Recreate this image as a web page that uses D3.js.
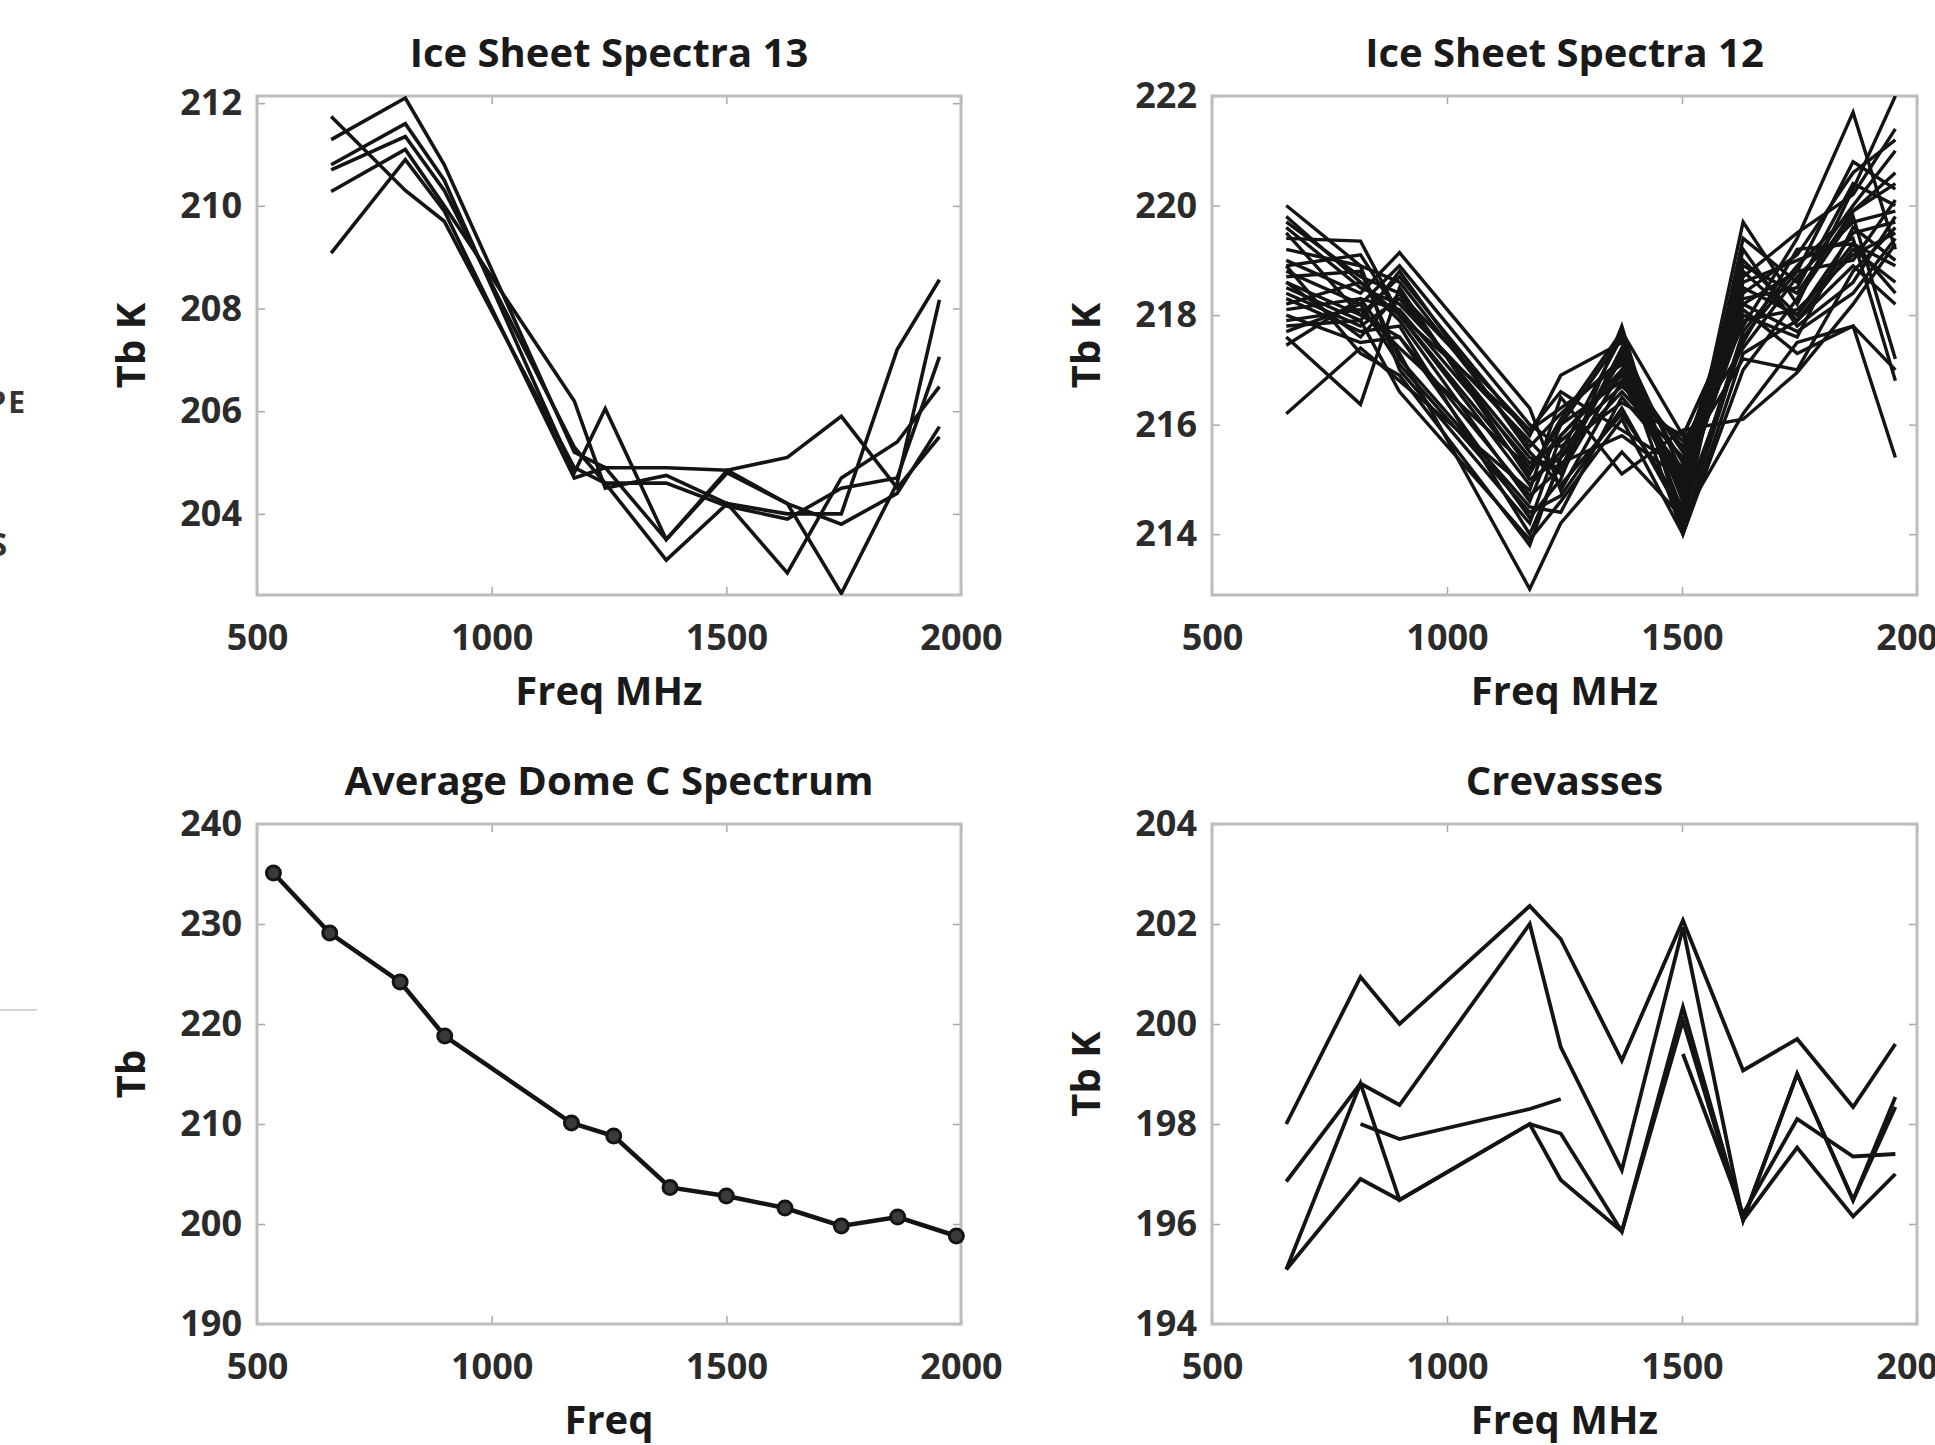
<!DOCTYPE html>
<html lang="en">
<head>
  <meta charset="UTF-8">
  <title>Spectra</title>
  <script src="https://d3js.org/d3.v7.min.js"></script>
  <style>
    body {
      margin: 0;
      padding: 0;
      background: #fff;
    }
    svg {
      display: block;
      font-family: 'Open Sans', sans-serif;
    }
    .tick text {
      font-family: 'Open Sans', sans-serif;
      font-size: 36px;
      font-weight: 700;
      fill: #2b2b2b;
    }
    .tick line {
      stroke: #a8a8a8;
      stroke-width: 1.5;
    }
    .title, .label {
      font-size: 40px;
      font-weight: 700;
      fill: #1a1a1a;
    }
  </style>
</head>
<body>
  <svg id="chart" width="1935" height="1445"></svg>

  <script>
    // x values (MHz)
    var freqSpectra = [658, 816, 899, 1176, 1242, 1372, 1502, 1630, 1745, 1864, 1954];
    var freqDome = [535, 655, 805, 900, 1170, 1260, 1380, 1500, 1625, 1745, 1865, 1990];
    var xTicks = [500, 1000, 1500, 2000];

    // Ice Sheet Spectra 13
    var spectra13 = [
      [211.29, 212.1, 210.8, 205.2, 204.9, 204.9, 204.85, 205.1, 205.9, 204.5, 205.5],
      [210.8, 211.6, 210.5, 204.8, 206.05, 203.5, 204.8, 204.2, 203.8, 204.4, 205.7],
      [210.7, 211.35, 210.3, 205.3, 204.6, 203.1, 204.2, 202.85, 204.7, 205.4, 206.48],
      [210.28, 211.1, 210.0, 206.2, 204.5, 204.75, 204.2, 204.0, 204.0, 207.2, 208.56],
      [209.08, 210.9, 209.9, 204.7, 204.9, 203.5, 204.85, 204.2, 202.45, 204.6, 208.17],
      [211.74, 210.3, 209.7, 204.9, 204.6, 204.6, 204.15, 203.9, 204.5, 204.7, 207.06]
    ];
    var yTicks13 = [204, 206, 208, 210, 212];

    // Ice Sheet Spectra 12
    var spectra12 = [
      [220.0, 218.9, 218.6, 215.6, 216.2, 217.2, 215.3, 218.9, 218.4, 219.9, 220.6],
      [219.7, 218.7, 218.4, 215.2, 215.8, 217.0, 215.0, 218.5, 218.0, 219.5, 219.7],
      [219.4, 219.35, 218.0, 214.9, 215.5, 217.6, 214.6, 219.7, 218.2, 220.3, 222.0],
      [219.0, 218.4, 219.14, 216.3, 214.8, 216.8, 215.6, 217.8, 219.4, 221.7, 219.2],
      [218.8, 218.2, 218.9, 216.0, 215.6, 216.4, 215.8, 218.2, 218.8, 220.8, 220.3],
      [218.6, 218.0, 218.7, 215.8, 216.9, 217.5, 215.1, 218.8, 217.9, 219.2, 218.6],
      [218.4, 217.8, 218.3, 215.4, 215.2, 217.3, 214.4, 219.4, 218.6, 220.0, 221.0],
      [218.2, 218.6, 217.9, 214.6, 216.0, 216.8, 214.8, 218.0, 217.6, 219.6, 219.0],
      [218.0, 217.5, 217.6, 214.3, 215.0, 217.8, 214.1, 217.6, 218.8, 219.0, 220.1],
      [217.8, 217.9, 216.6, 213.9, 214.6, 216.1, 214.0, 217.0, 218.3, 219.8, 217.2],
      [217.6, 216.37, 218.5, 215.0, 215.4, 216.6, 215.4, 217.2, 217.0, 218.8, 219.6],
      [217.45, 218.3, 217.3, 213.0, 214.2, 215.5, 214.3, 216.2, 217.5, 217.8, 215.4],
      [216.2, 217.4, 216.8, 214.8, 216.5, 215.1, 215.9, 216.1, 216.95, 218.2, 219.3],
      [219.2, 218.9, 217.0, 214.2, 215.8, 216.9, 214.7, 218.6, 219.0, 219.4, 216.8],
      [218.9, 219.1, 218.0, 215.9, 216.3, 217.1, 215.5, 218.3, 218.5, 220.4, 220.0],
      [218.5, 217.9, 218.8, 215.5, 214.9, 216.2, 214.5, 217.5, 219.2, 219.3, 218.4],
      [217.9, 218.1, 217.4, 215.2, 216.0, 217.6, 214.2, 219.2, 217.8, 218.6, 219.8],
      [218.3, 217.7, 217.8, 214.0, 215.3, 215.8, 215.0, 218.7, 219.5, 220.2, 221.4],
      [219.6, 218.5, 218.2, 215.7, 215.1, 217.0, 214.9, 217.9, 218.1, 219.1, 219.5],
      [218.7, 218.8, 217.2, 214.5, 214.4, 216.5, 215.2, 218.1, 217.3, 217.8, 217.0],
      [218.1, 218.3, 218.1, 215.3, 215.7, 216.7, 215.7, 217.4, 218.7, 219.7, 219.9],
      [219.5, 218.0, 217.6, 214.7, 215.2, 217.4, 214.6, 218.4, 219.1, 220.6, 221.2],
      [218.6, 217.6, 218.4, 215.9, 216.6, 215.9, 215.2, 219.0, 218.0, 219.3, 218.9],
      [217.7, 218.2, 217.1, 214.4, 214.7, 216.3, 214.3, 217.7, 218.9, 219.9, 220.4],
      [219.8, 218.6, 218.0, 215.1, 216.1, 217.7, 215.8, 218.2, 217.7, 218.4, 219.4],
      [218.9, 217.3, 216.9, 213.8, 215.4, 217.2, 214.0, 217.3, 217.9, 218.9, 218.2]
    ];
    var yTicks12 = [214, 216, 218, 220, 222];

    // Average Dome C Spectrum
    var domeTb = [235.1, 229.1, 224.2, 218.8, 210.1, 208.8, 203.65, 202.8, 201.6, 199.8, 200.7, 198.8];
    var yTicksDome = [190, 200, 210, 220, 230, 240];

    // Crevasses (null = no sample)
    var crevasses = [
      [198.0, 200.94, 200.0, 202.36, 201.7, 199.27, 202.07, 199.07, 199.7, 198.34, 199.6],
      [196.85, 198.81, 198.38, 202.0, 199.54, 197.08, 201.93, 196.08, 199.0, 196.48, 198.54],
      [195.09, 198.81, 196.48, 198.0, 197.81, 195.85, 200.34, 196.08, 199.0, 196.48, 198.34],
      [195.09, 196.9, 196.48, 198.0, 196.88, 195.85, 200.07, 196.08, 197.53, 196.15, 197.0],
      [null, 198.0, 197.7, 198.3, 198.5, null, null, null, null, null, null],
      [null, null, null, null, null, null, 199.4, 196.2, 198.1, 197.35, 197.4]
    ];
    var yTicksCrev = [194, 196, 198, 200, 202, 204];

    var svg = d3.select('#chart');

    function drawPanel(p) {
      var g = svg.append('g');
      var x = d3.scaleLinear().domain([500, 2000]).range([p.left, p.left + p.width]);
      var y = d3.scaleLinear().domain(p.yDomain).range([p.top + p.height, p.top]);

      var clipId = 'clip' + p.id;
      g.append('clipPath').attr('id', clipId)
        .append('rect')
        .attr('x', p.left).attr('y', p.top)
        .attr('width', p.width).attr('height', p.height);

      // axes, ticks pointing inward like matlab
      g.append('g')
        .attr('transform', 'translate(0,' + (p.top + p.height) + ')')
        .call(d3.axisBottom(x).tickValues(xTicks).tickFormat(d3.format('d')).tickSize(-8).tickPadding(29))
        .call(function(a) { a.select('.domain').remove(); });
      g.append('g')
        .attr('transform', 'translate(0,' + p.top + ')')
        .call(d3.axisTop(x).tickValues(xTicks).tickSize(-8).tickFormat(''))
        .call(function(a) { a.select('.domain').remove(); });
      g.append('g')
        .attr('transform', 'translate(' + p.left + ',0)')
        .call(d3.axisLeft(y).tickValues(p.yTicks).tickFormat(d3.format('d')).tickSize(-8).tickPadding(15))
        .call(function(a) { a.select('.domain').remove(); });
      g.append('g')
        .attr('transform', 'translate(' + (p.left + p.width) + ',0)')
        .call(d3.axisRight(y).tickValues(p.yTicks).tickSize(-8).tickFormat(''))
        .call(function(a) { a.select('.domain').remove(); });

      g.append('rect')
        .attr('x', p.left).attr('y', p.top)
        .attr('width', p.width).attr('height', p.height)
        .attr('fill', 'none')
        .attr('stroke', '#bdbdbd')
        .attr('stroke-width', 3);

      var line = d3.line()
        .defined(function(d) { return d.v != null; })
        .x(function(d) { return x(d.f); })
        .y(function(d) { return y(d.v); });

      var rows = p.series.map(function(s) {
        return s.map(function(v, i) { return {f: p.freqs[i], v: v}; });
      });

      g.append('g')
        .attr('clip-path', 'url(#' + clipId + ')')
        .selectAll('path')
        .data(rows).enter().append('path')
        .attr('d', line)
        .attr('fill', 'none')
        .attr('stroke', '#141414')
        .attr('stroke-width', p.lineWidth)
        .attr('stroke-linejoin', 'miter');

      if (p.markers) {
        g.append('g').selectAll('circle')
          .data(rows[0]).enter().append('circle')
          .attr('cx', function(d) { return x(d.f); })
          .attr('cy', function(d) { return y(d.v); })
          .attr('r', 7)
          .attr('fill', '#3a3a3a')
          .attr('stroke', '#141414')
          .attr('stroke-width', 3);
      }

      var cx = p.left + p.width / 2;
      g.append('text').attr('class', 'title')
        .attr('x', cx).attr('y', p.top - 29)
        .attr('text-anchor', 'middle')
        .text(p.title);
      g.append('text').attr('class', 'label')
        .attr('x', cx).attr('y', p.top + p.height + 110)
        .attr('text-anchor', 'middle')
        .text(p.xLabel);
      g.append('text').attr('class', 'label')
        .attr('transform', 'translate(' + (p.left - 112) + ',' + (p.top + p.height / 2) + ')rotate(-90)')
        .attr('text-anchor', 'middle')
        .text(p.yLabel);
    }

    drawPanel({
      id: 1, left: 257, top: 96, width: 704, height: 499,
      yDomain: [202.42, 212.14], yTicks: yTicks13,
      freqs: freqSpectra, series: spectra13, lineWidth: 3.6,
      title: 'Ice Sheet Spectra 13', xLabel: 'Freq MHz', yLabel: 'Tb K'
    });
    drawPanel({
      id: 2, left: 1212, top: 96, width: 705, height: 499,
      yDomain: [212.89, 222], yTicks: yTicks12,
      freqs: freqSpectra, series: spectra12, lineWidth: 3.4,
      title: 'Ice Sheet Spectra 12', xLabel: 'Freq MHz', yLabel: 'Tb K'
    });
    drawPanel({
      id: 3, left: 257, top: 824, width: 704, height: 500,
      yDomain: [190, 240], yTicks: yTicksDome,
      freqs: freqDome, series: [domeTb], lineWidth: 4.5, markers: true,
      title: 'Average Dome C Spectrum', xLabel: 'Freq', yLabel: 'Tb'
    });
    drawPanel({
      id: 4, left: 1212, top: 824, width: 705, height: 500,
      yDomain: [194, 204], yTicks: yTicksCrev,
      freqs: freqSpectra, series: crevasses, lineWidth: 3.8,
      title: 'Crevasses', xLabel: 'Freq MHz', yLabel: 'Tb K'
    });

    // bits of a neighbouring figure cut off at the left edge
    svg.append('text')
      .attr('x', 27).attr('y', 413)
      .attr('text-anchor', 'end')
      .attr('font-size', 30).attr('font-weight', 700)
      .attr('fill', '#333')
      .attr('letter-spacing', 2)
      .text('PE');
    svg.append('text')
      .attr('x', 7).attr('y', 556)
      .attr('text-anchor', 'end')
      .attr('font-size', 32).attr('font-weight', 700)
      .attr('fill', '#333')
      .text('S');
    svg.append('line')
      .attr('x1', 0).attr('x2', 37)
      .attr('y1', 1010).attr('y2', 1010)
      .attr('stroke', '#d4d4d4').attr('stroke-width', 2);
  </script>
</body>
</html>
